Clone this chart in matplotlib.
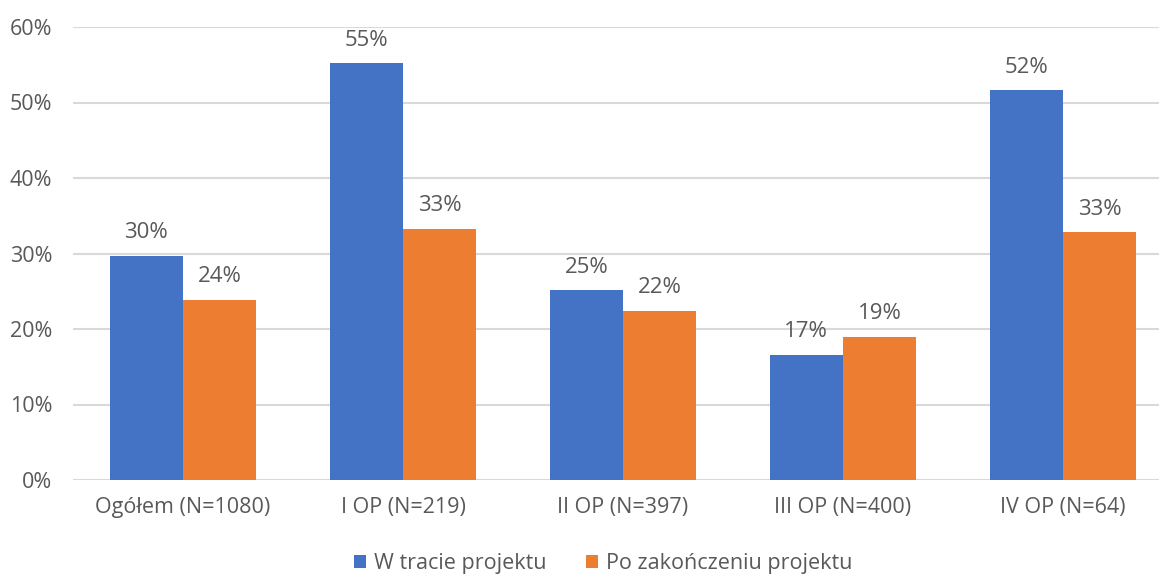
import matplotlib
matplotlib.use("Agg")
import matplotlib.pyplot as plt
import numpy as np

categories = ["Ogółem (N=1080)", "I OP (N=219)", "II OP (N=397)", "III OP (N=400)", "IV OP (N=64)"]
w_trakcie = [29.7, 55.2, 25.1, 16.6, 51.6]
po_zakonczeniu = [23.9, 33.3, 22.4, 19.0, 32.8]
series_names = ["W tracie projektu", "Po zakończeniu projektu"]
colors = ["#4472C4", "#ED7D31"]
yticks = [0, 10, 20, 30, 40, 50, 60]

plt.rcParams["font.family"] = ["Open Sans", "DejaVu Sans"]
text_color = "#595959"
fs = 15.5

fig = plt.figure(figsize=(11.59, 5.74), dpi=100)
W, H = 1159, 574
# axes spans x 73..1173 px, y 27..480 px
ax = fig.add_axes([73 / W, (H - 480) / H, 1100 / W, (480 - 27) / H])

x = np.arange(len(categories))
bw = 1 / 3
b1 = ax.bar(x - bw / 2, w_trakcie, bw, color=colors[0], label=series_names[0], zorder=3)
b2 = ax.bar(x + bw / 2, po_zakonczeniu, bw, color=colors[1], label=series_names[1], zorder=3)

for bars in (b1, b2):
    for rect in bars:
        v = rect.get_height()
        ax.annotate(f"{v:.0f}%", (rect.get_x() + rect.get_width() / 2, v),
                    xytext=(0, 9), textcoords="offset points",
                    ha="center", va="bottom", fontsize=16, color=text_color)

ax.set_xlim(-0.5, len(categories) - 0.5)
ax.set_ylim(0, 60)
ax.set_yticks(yticks)
ax.set_yticklabels([f"{t}%" for t in yticks])
ax.set_xticks(x)
ax.set_xticklabels(categories)
ax.tick_params(axis="both", length=0, labelsize=fs, colors=text_color)
ax.tick_params(axis="y", pad=15)
ax.tick_params(axis="x", pad=12)
ax.grid(axis="y", color="#D9D9D9", linewidth=1.5, zorder=0)
for s in ax.spines.values():
    s.set_visible(False)

leg = fig.legend(handles=[b1, b2], labels=series_names, loc="center",
                 bbox_to_anchor=(603 / W, (H - 564) / H), ncol=2, frameon=False,
                 fontsize=fs, handlelength=0.56, handleheight=0.56, handletextpad=0.37,
                 columnspacing=1.85, labelcolor=text_color)

fig.savefig("out.png", dpi=100)
